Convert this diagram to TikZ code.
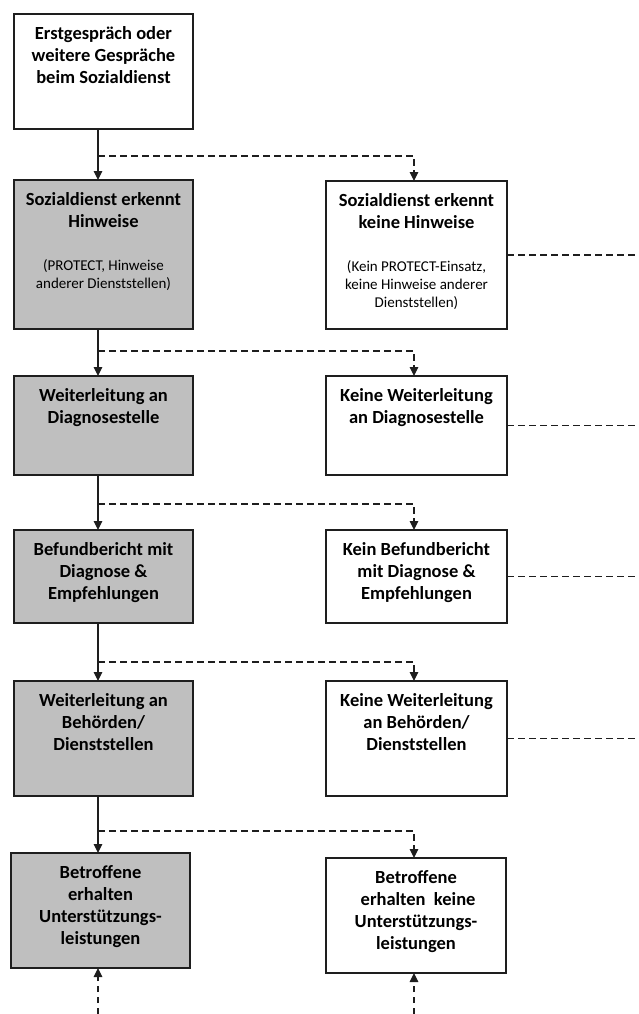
\documentclass[tikz,border=0pt]{standalone}
\usepackage{fontspec}
\setmainfont{Carlito}
\usetikzlibrary{arrows.meta}
\definecolor{boxgray}{HTML}{BFBFBF}
\definecolor{ink}{HTML}{1E1E1E}

\begin{document}
\begin{tikzpicture}[x=1pt,y=-1pt,
  box/.style={draw=ink, line width=1.2pt, inner sep=0pt, outer sep=0pt, minimum width=179pt},
  grey/.style={box, fill=boxgray},
  plain/.style={box, fill=white},
  head/.style={anchor=north, align=center, inner sep=0pt, text=black,
    font=\fontsize{18.5}{22}\selectfont\bfseries},
  note/.style={anchor=north, align=center, inner sep=0pt, text=black,
    font=\fontsize{15}{18.3}\selectfont},
  flow/.style={draw=ink, line width=1.2pt, -{Triangle[width=8.5pt,length=9pt]}},
  alt/.style={draw=ink, line width=1.1pt, dash pattern=on 6.5pt off 4.5pt,
    -{Triangle[width=8.5pt,length=9pt]}},
  stub/.style={draw=ink, line width=1.1pt, dash pattern=on 6.5pt off 4.5pt}]

\useasboundingbox (0,0) rectangle (638,1014);
\fill[white] (0,0) rectangle (638,1014);

% guide coordinates: left and right arrow columns, right edge, bottom edge
\coordinate (L) at (98,0);
\coordinate (R) at (414,0);
\coordinate (E) at (638,0);
\coordinate (B) at (0,1014);
% branching points of the dashed alternatives
\coordinate (d1) at (98,156);
\coordinate (d2) at (98,351);
\coordinate (d3) at (98,504);
\coordinate (d4) at (98,662);
\coordinate (d5) at (98,831);

% boxes
\node[plain, minimum height=115pt] (b0) at (103.5,71.5) {};
\node[grey, minimum height=149pt] (b1) at (103.5,254.5) {};
\node[plain, minimum width=181pt, minimum height=148pt] (r1) at (416.5,255) {};
\node[grey, minimum height=99pt] (b2) at (103.5,425.5) {};
\node[plain, minimum width=181pt, minimum height=99pt] (r2) at (416.5,425.5) {};
\node[grey, minimum height=93pt] (b3) at (103.5,576.5) {};
\node[plain, minimum width=181pt, minimum height=93pt] (r3) at (416.5,576.5) {};
\node[grey, minimum height=115pt] (b4) at (103.5,738.5) {};
\node[plain, minimum width=181pt, minimum height=115pt] (r4) at (416.5,738.5) {};
\node[grey, minimum height=115pt] (b5) at (100.5,910.5) {};
\node[plain, minimum width=180pt, minimum height=115pt] (r5) at (416,915.5) {};

% box texts
\node[head] (t0) at ([yshift=-12.5pt]b0.north) {Erstgespräch oder\\weitere Gespräche\\beim Sozialdienst};
\node[head] (t1) at ([yshift=-12.5pt]b1.north) {Sozialdienst erkennt\\Hinweise};
\node[note] (n1) at ([yshift=-79pt]b1.north) {(PROTECT, Hinweise\\anderer Dienststellen)};
\node[head] (u1) at ([yshift=-12.5pt]r1.north) {Sozialdienst erkennt\\keine Hinweise};
\node[note] (m1) at ([yshift=-79pt]r1.north) {(Kein PROTECT-Einsatz,\\keine Hinweise anderer\\Dienststellen)};
\node[head] (t2) at ([yshift=-12.5pt]b2.north) {Weiterleitung an\\Diagnosestelle};
\node[head] (u2) at ([yshift=-12.5pt]r2.north) {Keine Weiterleitung\\an Diagnosestelle};
\node[head] (t3) at ([yshift=-12.5pt]b3.north) {Befundbericht mit\\Diagnose \&\\Empfehlungen};
\node[head] (u3) at ([yshift=-12.5pt]r3.north) {Kein Befundbericht\\mit Diagnose \&\\Empfehlungen};
\node[head] (t4) at ([yshift=-12.5pt]b4.north) {Weiterleitung an\\Behörden/\\Dienststellen};
\node[head] (u4) at ([yshift=-12.5pt]r4.north) {Keine Weiterleitung\\an Behörden/\\Dienststellen};
\node[head] (t5) at ([yshift=-12.5pt]b5.north) {Betroffene\\erhalten\\Unterstützungs-\\leistungen};
\node[head] (u5) at ([yshift=-12.5pt]r5.north) {Betroffene\\\ erhalten\ \ keine\\Unterstützungs-\\leistungen};

% main path
\draw[flow] (b0.south -| L) -- (b1.north -| L);
\draw[flow] (b1.south -| L) -- (b2.north -| L);
\draw[flow] (b2.south -| L) -- (b3.north -| L);
\draw[flow] (b3.south -| L) -- (b4.north -| L);
\draw[flow] (b4.south -| L) -- (b5.north -| L);

% alternative path
\draw[alt] (d1) -| (r1.north -| R);
\draw[alt] (d2) -| (r2.north -| R);
\draw[alt] (d3) -| (r3.north -| R);
\draw[alt] (d4) -| (r4.north -| R);
\draw[alt] (d5) -| (r5.north -| R);

% dashed exits to the right
\draw[stub] (r1.east) -- (r1.east -| E);
\draw[stub] (r2.east) -- (r2.east -| E);
\draw[stub] (r3.east) -- (r3.east -| E);
\draw[stub] (r4.east) -- (r4.east -| E);

% dashed entries from below
\draw[alt] (B -| L) -- (b5.south -| L);
\draw[alt] (B -| R) -- (r5.south -| R);
\end{tikzpicture}
\end{document}
